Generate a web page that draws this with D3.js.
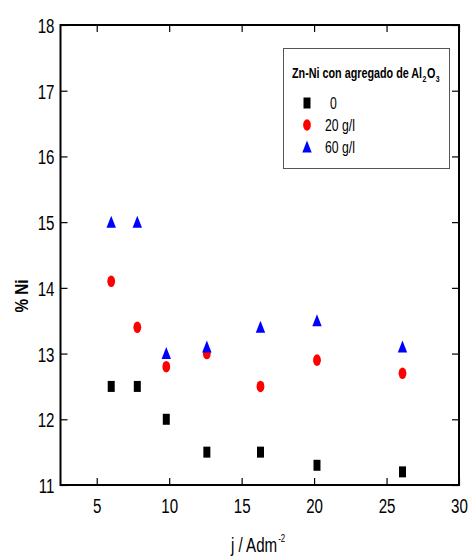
<!DOCTYPE html>
<html><head><meta charset="utf-8">
<script src="https://cdn.jsdelivr.net/npm/d3@7"></script>
<style>body{margin:0;background:#fff}svg{display:block}</style>
</head><body>
<script>
const currentDensity = [6.0, 7.8, 9.8, 12.6, 16.3, 20.2, 26.1];
const ni0 = [12.5, 12.5, 12.0, 11.5, 11.5, 11.3, 11.2];
const ni20 = [14.1, 13.4, 12.8, 13.0, 12.5, 12.9, 12.7];
const ni60 = [15.0, 15.0, 13.0, 13.1, 13.4, 13.5, 13.1];
const xTicks = [5, 10, 15, 20, 25, 30];
const yTicks = [11, 12, 13, 14, 15, 16, 17, 18];
const seriesNames = ["0", "20 g/l", "60 g/l"];

const W = 469, H = 559;
const m = {l: 60.5, r: 10, t: 25, b: 74};
const FONT = "'Liberation Sans',Arial,sans-serif";
const NX = 0.72;
const svg = d3.select("body").append("svg").attr("width", W).attr("height", H);
const x = d3.scaleLinear().domain([2.5, 30]).range([m.l, W - m.r]);
const y = d3.scaleLinear().domain([11, 18]).range([H - m.b, m.t]);

const g = svg.append("g");
g.append("rect").attr("x", x(2.5)).attr("y", y(18)).attr("width", x(30) - x(2.5)).attr("height", y(11) - y(18))
  .attr("fill", "none").attr("stroke", "#000").attr("stroke-width", 2);

const tl = 7;
const axB = g.append("g").attr("transform", `translate(0,${y(11)})`)
  .call(d3.axisBottom(x).tickValues(xTicks).tickSizeInner(-tl).tickSizeOuter(0).tickPadding(13));
const axT = g.append("g").attr("transform", `translate(0,${y(18)})`)
  .call(d3.axisTop(x).tickValues(xTicks).tickSizeInner(-tl).tickSizeOuter(0).tickFormat(""));
const axL = g.append("g").attr("transform", `translate(${x(2.5)},0)`)
  .call(d3.axisLeft(y).tickValues(yTicks).tickSizeInner(-tl).tickSizeOuter(0).tickPadding(6).tickFormat(d3.format("d")));
const axR = g.append("g").attr("transform", `translate(${x(30)},0)`)
  .call(d3.axisRight(y).tickValues(yTicks).tickSizeInner(-tl).tickSizeOuter(0).tickFormat(""));
[axB, axT, axL, axR].forEach(a => {
  a.select(".domain").remove();
  a.selectAll("line").attr("stroke", "#000").attr("stroke-width", 1.2);
  a.selectAll("text").attr("font-family", FONT).attr("font-size", 21).attr("fill", "#000");
});
axL.selectAll("text").attr("dy", "0.36em").attr("x", -6 / NX).attr("transform", `scale(${NX},1)`);
axB.selectAll("text").attr("transform", `scale(${NX},1)`);

function square(cx, cy) { return `M${cx-3.5},${cy-5.5}h7v11h-7z`; }
function tri(cx, cy) { return `M${cx},${cy-6.5}L${cx+4.7},${cy+5.5}L${cx-4.7},${cy+5.5}z`; }
const pts = g.append("g");
pts.selectAll(".s0").data(currentDensity).join("path")
  .attr("d", (d, i) => square(x(d), y(ni0[i]))).attr("fill", "#000");
pts.selectAll(".s20").data(currentDensity).join("ellipse")
  .attr("cx", d => x(d)).attr("cy", (d, i) => y(ni20[i])).attr("rx", 3.9).attr("ry", 5.8).attr("fill", "#ff0000");
pts.selectAll(".s60").data(currentDensity).join("path")
  .attr("d", (d, i) => tri(x(d), y(ni60[i]))).attr("fill", "#0000ff");

// horizontally condensed text pieces, laid out left to right
function richText(parent, x0, y0, parts, opts) {
  let cx = x0;
  parts.forEach(p => {
    const t = parent.append("text").attr("transform", `translate(${cx},${y0 + (p.dy || 0)}) scale(${opts.f},1)`)
      .attr("font-family", FONT).attr("font-size", p.size || opts.size)
      .attr("font-weight", opts.weight || "normal").attr("fill", "#000").text(p.t);
    cx += t.node().getComputedTextLength() * opts.f + (p.gap || 0);
  });
  return cx - x0;
}

// legend
const lg = svg.append("g");
lg.append("rect").attr("x", 283.5).attr("y", 48.5).attr("width", 166).attr("height", 120)
  .attr("fill", "#fff").attr("stroke", "#555").attr("stroke-width", 1);
richText(lg, 292, 78, [
  {t: "Zn-Ni con agregado de Al", gap: 0.5},
  {t: "2", size: 9, dy: 4, gap: 0.5},
  {t: "O", gap: 0.5},
  {t: "3", size: 9, dy: 4}
], {size: 14, weight: "bold", f: 0.77});
const ly = [103, 125, 147];
lg.append("path").attr("d", square(307, ly[0])).attr("fill", "#000");
lg.append("ellipse").attr("cx", 307).attr("cy", ly[1]).attr("rx", 3.9).attr("ry", 5.8).attr("fill", "#ff0000");
lg.append("path").attr("d", tri(307, ly[2])).attr("fill", "#0000ff");
lg.selectAll(".lt").data(seriesNames).join("text")
  .attr("transform", (d, i) => `translate(${i === 0 ? 330 : 325},${ly[i]}) scale(${NX},1)`).attr("dy", "0.36em")
  .attr("font-family", FONT).attr("font-size", 17).attr("fill", "#000").text(d => d);

// axis titles
const xg = svg.append("g");
richText(xg, 231, 552, [
  {t: "j / Adm", gap: 1},
  {t: "-2", size: 11, dy: -10}
], {size: 21, f: NX});
svg.append("text").attr("transform", "translate(28,296) rotate(-90) scale(0.85,1)").attr("text-anchor", "middle")
  .attr("font-family", FONT).attr("font-size", 18).attr("font-weight", "bold").attr("fill", "#000").text("% Ni");
</script>
</body></html>
